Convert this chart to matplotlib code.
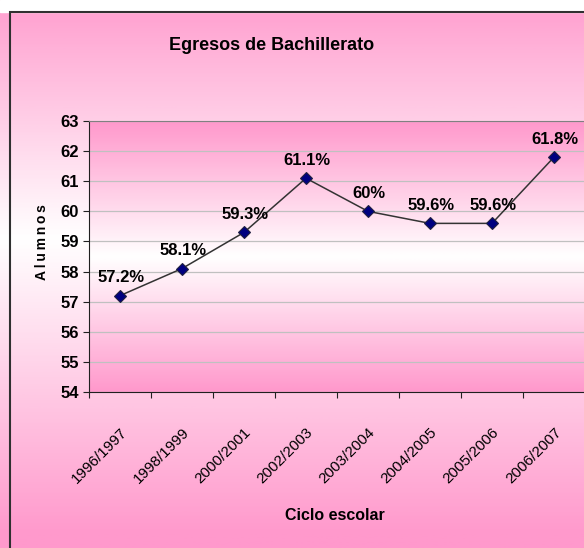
import numpy as np
import matplotlib
matplotlib.use("Agg")
import matplotlib.pyplot as plt
from matplotlib.colors import LinearSegmentedColormap
from matplotlib.patches import Rectangle

plt.rcParams['font.family'] = ['Liberation Sans', 'DejaVu Sans']

ciclos = ["1996/1997", "1998/1999", "2000/2001", "2002/2003",
          "2003/2004", "2004/2005", "2005/2006", "2006/2007"]
egresos = [57.2, 58.1, 59.3, 61.1, 60, 59.6, 59.6, 61.8]

PINK = "#FF99CC"
W, H = 584, 548

fig = plt.figure(figsize=(W / 100, H / 100), dpi=100)

# background of the chart area: pink -> white -> pink, top to bottom
pink_white = LinearSegmentedColormap.from_list("pw", [PINK, "#FFFFFF", PINK])
bg = fig.add_axes([0, 0, 1, 1], zorder=-10)
top, mid, bot = 12, 310, 560
py = np.linspace(0, H, 400)
t = np.where(py < mid, 0.5 * (py - top) / (mid - top),
             0.5 + 0.5 * (py - mid) / (bot - mid))
t = np.clip(t, 0, 1)
bg.imshow(t[:, None], cmap=pink_white, vmin=0, vmax=1, aspect='auto',
          extent=[0, 1, 1, 0], transform=bg.transAxes)
# white strip above the frame
bg.add_patch(Rectangle((0, 1 - top / H), 1, top / H, color="white",
                       transform=bg.transAxes, zorder=2))
bg.add_patch(Rectangle((10 / W, -0.1), 1.2, 1.1 - 12 / H, fill=False,
                       edgecolor="#303030", lw=1.5, transform=bg.transAxes, zorder=3))
bg.set_xlim(0, 1)
bg.set_ylim(0, 1)
bg.axis("off")

# plot area
ax = fig.add_axes([89 / W, (H - 392) / H, 496 / W, 271 / H])
x = np.arange(len(ciclos))
ax.set_xlim(-0.5, len(ciclos) - 0.5)
ax.set_ylim(54, 63)
ax.imshow(np.linspace(0, 1, 300)[:, None], cmap=pink_white, vmin=0, vmax=1,
          aspect='auto', extent=[-0.5, len(ciclos) - 0.5, 54, 63], zorder=0)

ax.set_yticks(np.arange(54, 64, 1))
ax.yaxis.grid(True, color="#C0C0C0", lw=0.9)
for gl in ax.get_ygridlines():
    gl.set_zorder(1)

ax.plot(x, egresos, color="#333333", lw=1.1, zorder=3,
        marker="D", markersize=6.5, markerfacecolor="#000080",
        markeredgecolor="#202040", markeredgewidth=0.8)

for xi, v in zip(x, egresos):
    ax.annotate(f"{v:g}%", (xi, v), xytext=(1, 13), textcoords="offset points",
                ha="center", va="center", fontsize=12, fontweight="bold", zorder=4)

# ticks at category boundaries, labels at centers
ax.set_xticks(np.arange(-0.5, len(ciclos) + 0.5, 1))
ax.set_xticklabels([])
ax.set_xticks(x, minor=True)
ax.set_xticklabels(ciclos, minor=True, rotation=45, ha="right",
                   rotation_mode="anchor", fontsize=11)
ax.tick_params(axis="x", which="minor", length=0, pad=24)
ax.tick_params(axis="x", which="major", length=4, direction="out", color="#202020")
ax.tick_params(axis="y", length=4, direction="out", color="#202020", labelsize=12)
for lab in ax.get_yticklabels():
    lab.set_fontweight("bold")

for s in ["top", "right"]:
    ax.spines[s].set_color("#808080")
for s in ["left", "bottom"]:
    ax.spines[s].set_color("#202020")

fig.text(272 / W, 1 - 45 / H, "Egresos de Bachillerato", ha="center", va="center",
         fontsize=13, fontweight="bold")
fig.text(335 / W, 1 - 515 / H, "Ciclo escolar", ha="center", va="center",
         fontsize=11.5, fontweight="bold")
fig.text(42 / W, 1 - 242 / H, "\u2009".join("Alumnos"), ha="center", va="center",
         rotation=90, fontsize=10, fontweight="bold")

fig.savefig("out.png", dpi=100)
